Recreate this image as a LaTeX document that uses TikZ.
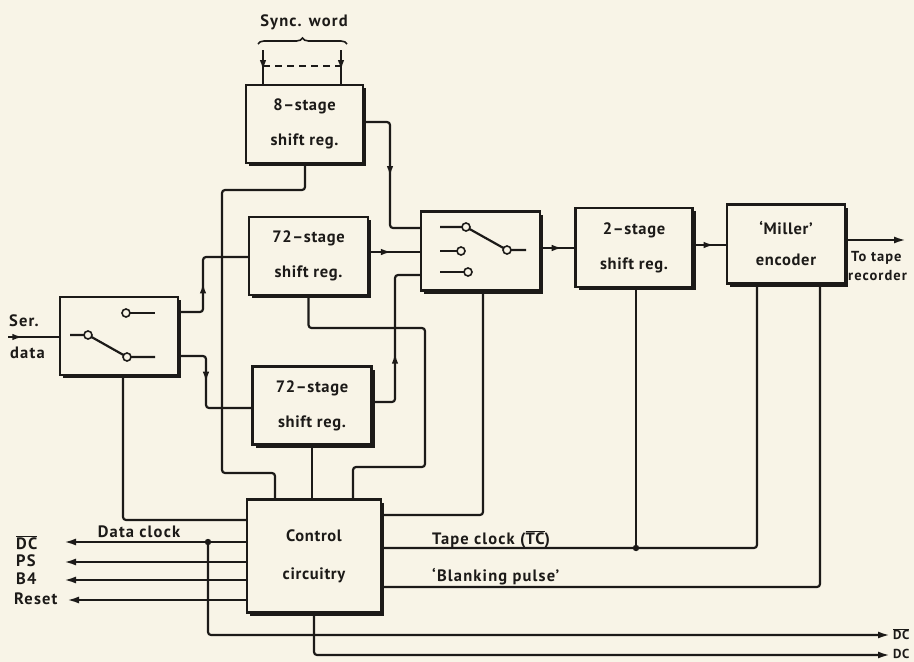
\documentclass[tikz,border=0pt]{standalone}
\usepackage{fontspec}
\setmainfont{PT Sans}[LetterSpace=4]
\newfontfamily\lblfam{PT Sans}[LetterSpace=7]
\usetikzlibrary{arrows.meta,decorations.markings,decorations.pathreplacing,shadows,calc}
\definecolor{bg}{RGB}{248,244,231}
\definecolor{ink}{RGB}{28,26,24}
\newcommand\figlbl{\lblfam\fontsize{16.5}{18}\selectfont\bfseries}
\newcommand\figbox{\fontsize{16.5}{35}\selectfont\bfseries}
\newcommand\ovl[1]{$\overline{\hbox{#1}}$}
\begin{document}
\begin{tikzpicture}[x=1pt,y=-1pt,
  wire/.style={draw=ink, line width=2.2pt, line join=round},
  tip/.style={-{Latex[length=12pt,width=7pt]}},
  midarr/.style={postaction={decorate,decoration={markings,mark=at position #1 with {\arrow{Latex[length=11pt,width=6.5pt]}}}}},
  box/.style={draw=ink, line width=2.2pt, fill=bg, align=center, text=ink, font=\figbox,
    general shadow={fill=ink, shadow xshift=3pt, shadow yshift=-3pt}},
  lbl/.style={font=\figlbl, text=ink, inner sep=0pt},
  contact/.style={draw=ink, line width=1.6pt, fill=bg},
  jdot/.style={fill=ink}]
\fill[bg] (0,0) rectangle (914,662);
\useasboundingbox (0,0) rectangle (914,662);

% boxes
\node[box, minimum width=117pt, minimum height=78pt] (sr8) at (304.5,124) {8--stage\\shift reg.};
\node[box, minimum width=119pt, minimum height=78pt] (sr72a) at (308.5,256) {72--stage\\shift reg.};
\node[box, minimum width=118pt, minimum height=78pt] (sw1) at (119,336) {};
\node[box, minimum width=119pt, minimum height=78pt] (sr72b) at (312,405.5) {72--stage\\shift reg.};
\node[box, minimum width=119pt, minimum height=79pt] (sw2) at (480.5,251) {};
\node[box, minimum width=117pt, minimum height=79pt] (sr2) at (634,247.5) {2--stage\\shift reg.};
\node[box, minimum width=118pt, minimum height=79pt, font=\fontsize{16.5}{31}\selectfont\bfseries] (mil) at (786,244) {‘Miller’\\encoder};
\node[box, minimum width=134pt, minimum height=113pt, font=\fontsize{16.5}{38}\selectfont\bfseries] (ctl) at (314,556) {Control\\circuitry};

% switch 1 contents
\draw[wire] (70,335) -- (88,335) -- (127,357) -- (155,357);
\draw[wire] (126,313) -- (155,313);
\foreach \p in {(88,335),(127,357),(126,313)} \draw[contact] \p circle (4pt);
% switch 2 contents
\draw[wire] (440,227) -- (466,227) -- (507,250) -- (526,250);
\draw[wire] (440,251) -- (461,251);
\draw[wire] (440,272) -- (468,272);
\foreach \p in {(466,227),(507,250),(461,251),(468,272)} \draw[contact] \p circle (4pt);

% sync word
\node[lbl] (sync) at (304,22) {Sync. word};
\draw[draw=ink, line width=1.6pt, decorate, decoration={brace, amplitude=6pt}] (258,44) -- (347,44);
\coordinate (syncA) at (263,50);
\coordinate (syncB) at (341,50);
\draw[wire, midarr=0.62] (syncA) -- (syncA |- sr8.north);
\draw[wire, midarr=0.62] (syncB) -- (syncB |- sr8.north);
\draw[draw=ink, line width=1.6pt, dashed, dash pattern=on 7pt off 5pt] (263,66) -- (341,66);

% serial input
\coordinate (serin) at (8,337);
\draw[wire, midarr=0.3] (serin) -- (sw1.west |- serin);
\node[lbl, anchor=west] (ser) at (9,321) {Ser.};
\node[lbl, anchor=west] (dat) at (10,353) {data};

% switch 1 to registers
\draw[wire, midarr=0.43, rounded corners=3pt] (sw1.east |- 0,312) -- (203,312) -- (203,257) -- (sr72a.west |- 0,257);
\draw[wire, midarr=0.43, rounded corners=3pt] (sw1.east |- 0,356) -- (206,356) -- (206,408) -- (sr72b.west |- 0,408);

% registers to switch 2
\draw[wire, midarr=0.45] (sr72a.east |- 0,252) -- (sw2.west |- 0,252);
\draw[wire, midarr=0.5, rounded corners=3pt] (sr8.east |- 0,122) -- (390,122) -- (390,228) -- (sw2.west |- 0,228);
\draw[wire, midarr=0.41, rounded corners=3pt] (sr72b.east |- 0,402) -- (395,402) -- (395,275) -- (sw2.west |- 0,275);

% chain to tape
\draw[wire, midarr=0.65] (sw2.east |- 0,248) -- (sr2.west |- 0,248);
\draw[wire, midarr=0.65] (sr2.east |- 0,245) -- (mil.west |- 0,245);
\coordinate (tape) at (906,240);
\draw[wire, tip] (mil.east |- tape) -- (tape);
\node[lbl, anchor=west, font=\lblfam\fontsize{14.5}{16}\selectfont\bfseries] (tt1) at (851,258) {To tape};
\node[lbl, anchor=west, font=\lblfam\fontsize{14.5}{16}\selectfont\bfseries] (tt2) at (848,276) {recorder};

% control connections from above
\draw[wire, rounded corners=3pt] (305,0 |- sr8.south) -- (305,190) -- (222,190) -- (222,473) -- (275,473) -- (275,0 |- ctl.north);
\draw[wire, rounded corners=3pt] (sr72a.south) -- (308.5,328) -- (425,328) -- (425,467) -- (353,467) -- (353,0 |- ctl.north);
\draw[wire] (sr72b.south) -- (sr72b.south |- ctl.north);
\draw[wire, rounded corners=3pt] (123,0 |- sw1.south) -- (123,520) -- (ctl.west |- 0,520);
\draw[wire, rounded corners=3pt] (483,0 |- sw2.south) -- (483,515) -- (ctl.east |- 0,515);

% tape clock and blanking
\coordinate (tcdot) at (636,548);
\draw[wire] (sr2.south -| tcdot) -- (tcdot);
\draw[wire, rounded corners=3pt] (ctl.east |- tcdot) -- (tcdot) -- (757,548) -- (757,0 |- mil.south);
\fill[jdot] (tcdot) circle (3.2pt);
\node[lbl, anchor=west] (tcl) at (432,539) {Tape clock (\ovl{TC})};
\draw[wire, rounded corners=3pt] (ctl.east |- 0,587) -- (820,587) -- (820,0 |- mil.south);
\node[lbl, anchor=west] (bpl) at (432,577) {‘Blanking pulse’};

% left outputs
\draw[wire, tip] (ctl.west |- 0,542) -- (64,542);
\draw[wire, tip] (ctl.west |- 0,562) -- (64,562);
\draw[wire, tip] (ctl.west |- 0,580) -- (64,580);
\draw[wire, tip] (ctl.west |- 0,600) -- (67,600);
\node[lbl] (dcl) at (139,532) {Data clock};
\node[lbl, anchor=west] (o1) at (16,543) {\ovl{DC}};
\node[lbl, anchor=west] (o2) at (16,561) {PS};
\node[lbl, anchor=west] (o3) at (16,579) {B4};
\node[lbl, anchor=west] (o4) at (14,599) {Reset};

% data clock taps to the right
\coordinate (dcdot) at (208,542);
\fill[jdot] (dcdot) circle (3.2pt);
\coordinate (dcbar) at (890,635);
\coordinate (dcout) at (890,655);
\draw[wire, tip, rounded corners=3pt] (dcdot) -- (dcdot |- dcbar) -- (dcbar);
\draw[wire, tip, rounded corners=3pt] (ctl.south) -- (ctl.south |- dcout) -- (dcout);
\node[lbl, anchor=west, font=\fontsize{13}{14}\selectfont\bfseries] (r1) at (893,634) {\ovl{DC}};
\node[lbl, anchor=west, font=\fontsize{13}{14}\selectfont\bfseries] (r2) at (893,654) {DC};
\end{tikzpicture}
\end{document}
